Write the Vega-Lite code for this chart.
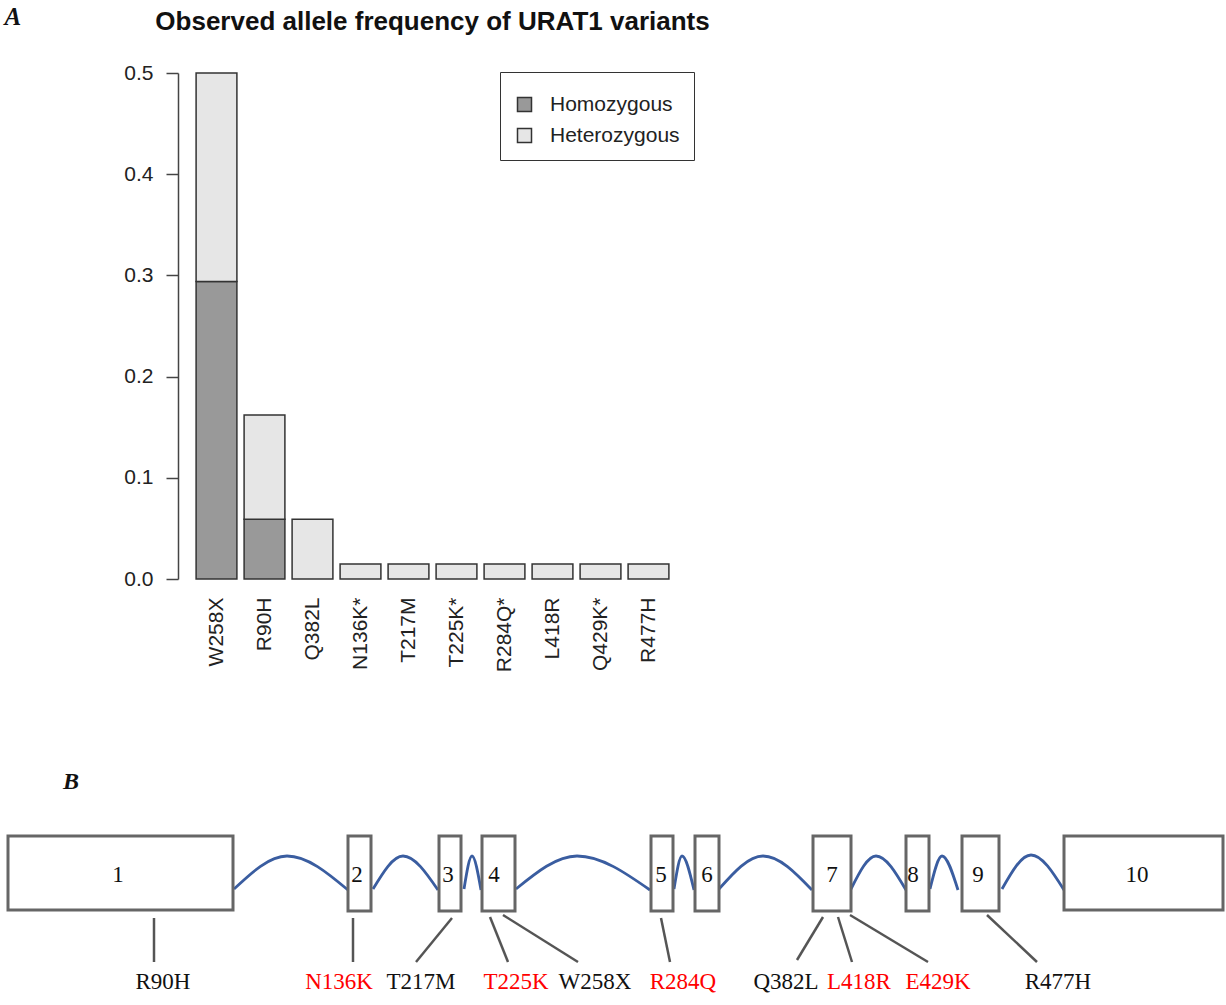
{
  "$schema": "https://vega.github.io/schema/vega-lite/v6.json",
  "width": 1226,
  "height": 1005,
  "padding": 0,
  "autosize": {"type": "none"},
  "background": "white",
  "config": {"view": {"stroke": null}, "axis": {"grid": false}},
  "datasets": {
    "freq": [
      {"variant": "W258X", "zygosity": "Homozygous", "freq": 0.294},
      {"variant": "W258X", "zygosity": "Heterozygous", "freq": 0.206},
      {"variant": "R90H", "zygosity": "Homozygous", "freq": 0.059},
      {"variant": "R90H", "zygosity": "Heterozygous", "freq": 0.103},
      {"variant": "Q382L", "zygosity": "Heterozygous", "freq": 0.059},
      {"variant": "N136K*", "zygosity": "Heterozygous", "freq": 0.0147},
      {"variant": "T217M", "zygosity": "Heterozygous", "freq": 0.0147},
      {"variant": "T225K*", "zygosity": "Heterozygous", "freq": 0.0147},
      {"variant": "R284Q*", "zygosity": "Heterozygous", "freq": 0.0147},
      {"variant": "L418R", "zygosity": "Heterozygous", "freq": 0.0147},
      {"variant": "Q429K*", "zygosity": "Heterozygous", "freq": 0.0147},
      {"variant": "R477H", "zygosity": "Heterozygous", "freq": 0.0147}
    ],
    "panel": [
      {"label": "B", "x": 63, "y": 789}
    ],
    "exons": [
      {"exon": "1", "x1": 8, "x2": 233, "y1": 836, "y2": 910, "xc": 118, "yc": 882},
      {"exon": "2", "x1": 348, "x2": 371, "y1": 836, "y2": 911, "xc": 357, "yc": 882},
      {"exon": "3", "x1": 439, "x2": 461, "y1": 836, "y2": 911, "xc": 448, "yc": 882},
      {"exon": "4", "x1": 482, "x2": 515, "y1": 836, "y2": 911, "xc": 494, "yc": 882},
      {"exon": "5", "x1": 651, "x2": 673, "y1": 836, "y2": 911, "xc": 661, "yc": 882},
      {"exon": "6", "x1": 695, "x2": 719, "y1": 836, "y2": 911, "xc": 707, "yc": 882},
      {"exon": "7", "x1": 813, "x2": 851, "y1": 836, "y2": 911, "xc": 832, "yc": 882},
      {"exon": "8", "x1": 906, "x2": 929, "y1": 836, "y2": 911, "xc": 913, "yc": 882},
      {"exon": "9", "x1": 962, "x2": 999, "y1": 836, "y2": 911, "xc": 978, "yc": 882},
      {"exon": "10", "x1": 1064, "x2": 1223, "y1": 836, "y2": 910, "xc": 1137, "yc": 882}
    ],
    "introns": [
      {"intron": 1, "x": 234, "y": 889}, {"intron": 1, "x": 287, "y": 856}, {"intron": 1, "x": 348, "y": 890},
      {"intron": 2, "x": 373, "y": 889}, {"intron": 2, "x": 403, "y": 856}, {"intron": 2, "x": 438, "y": 890},
      {"intron": 3, "x": 464, "y": 889}, {"intron": 3, "x": 472, "y": 856}, {"intron": 3, "x": 481, "y": 890},
      {"intron": 4, "x": 516, "y": 889}, {"intron": 4, "x": 577, "y": 856}, {"intron": 4, "x": 650, "y": 890},
      {"intron": 5, "x": 674, "y": 889}, {"intron": 5, "x": 682, "y": 856}, {"intron": 5, "x": 694, "y": 890},
      {"intron": 6, "x": 719, "y": 889}, {"intron": 6, "x": 763, "y": 856}, {"intron": 6, "x": 812, "y": 890},
      {"intron": 7, "x": 851, "y": 889}, {"intron": 7, "x": 876, "y": 856}, {"intron": 7, "x": 906, "y": 890},
      {"intron": 8, "x": 930, "y": 889}, {"intron": 8, "x": 942, "y": 856}, {"intron": 8, "x": 958, "y": 890},
      {"intron": 9, "x": 1002, "y": 889}, {"intron": 9, "x": 1031, "y": 855}, {"intron": 9, "x": 1064, "y": 890}
    ],
    "mutations": [
      {"name": "R90H", "type": "reported", "ax": 154, "ay": 918, "bx": 154, "by": 962, "lx": 163, "ly": 989},
      {"name": "N136K", "type": "novel", "ax": 353, "ay": 918, "bx": 353, "by": 962, "lx": 339, "ly": 989},
      {"name": "T217M", "type": "reported", "ax": 452, "ay": 918, "bx": 416, "by": 962, "lx": 421, "ly": 989},
      {"name": "T225K", "type": "novel", "ax": 490, "ay": 917, "bx": 508, "by": 962, "lx": 516, "ly": 989},
      {"name": "W258X", "type": "reported", "ax": 503, "ay": 915, "bx": 578, "by": 962, "lx": 595, "ly": 989},
      {"name": "R284Q", "type": "novel", "ax": 661, "ay": 918, "bx": 670, "by": 962, "lx": 683, "ly": 989},
      {"name": "Q382L", "type": "reported", "ax": 823, "ay": 917, "bx": 797, "by": 960, "lx": 786, "ly": 989},
      {"name": "L418R", "type": "novel", "ax": 838, "ay": 917, "bx": 852, "by": 962, "lx": 859, "ly": 989},
      {"name": "E429K", "type": "novel", "ax": 850, "ay": 915, "bx": 928, "by": 962, "lx": 938, "ly": 989},
      {"name": "R477H", "type": "reported", "ax": 987, "ay": 915, "bx": 1037, "by": 962, "lx": 1058, "ly": 989}
    ]
  },
  "layer": [
    {
      "data": {"name": "freq"},
      "mark": {"type": "bar", "stroke": "#333333", "strokeWidth": 1.5},
      "encoding": {
        "x": {
          "field": "variant", "type": "nominal", "sort": null,
          "scale": {"range": [192.5, 672.5], "paddingInner": 0.15, "paddingOuter": 0.075},
          "axis": {
            "orient": "bottom", "offset": -426, "domain": false, "ticks": false,
            "labelAngle": 270, "labelPadding": 18, "labelFontSize": 21, "labelFont": "Liberation Sans",
            "labelColor": "#222222", "labelOverlap": false,
            "title": "Observed allele frequency of URAT1 variants",
            "titleX": 432, "titleY": -550, "titleAlign": "center", "titleBaseline": "alphabetic",
            "titleFont": "Liberation Sans", "titleFontSize": 26, "titleFontWeight": "bold", "titleColor": "#111111"
          }
        },
        "y": {
          "field": "freq", "type": "quantitative", "stack": "zero",
          "scale": {"domain": [0, 0.5], "range": [579, 73], "nice": false},
          "axis": {
            "orient": "left", "offset": -178, "values": [0, 0.1, 0.2, 0.3, 0.4, 0.5], "format": ".1f",
            "tickSize": 12, "tickWidth": 1.5, "tickColor": "#444444", "domainColor": "#444444", "domainWidth": 1.5,
            "labelPadding": 13, "labelFontSize": 21, "labelFont": "Liberation Sans", "labelColor": "#222222",
            "title": "A", "titleX": -174, "titleY": 24, "titleAngle": 0, "titleAlign": "left", "titleBaseline": "alphabetic",
            "titleFont": "Liberation Serif", "titleFontSize": 25, "titleFontStyle": "italic", "titleFontWeight": "bold", "titleColor": "#111111"
          }
        },
        "color": {
          "field": "zygosity", "type": "nominal",
          "scale": {"domain": ["Homozygous", "Heterozygous"], "range": ["#999999", "#e6e6e6"]},
          "legend": {
            "orient": "none", "legendX": 500, "legendY": 72, "title": " ", "titleFontSize": 8, "titlePadding": 0,
            "strokeColor": "#333333",
            "padding": 14, "symbolType": "square", "symbolSize": 196, "symbolStrokeColor": "#333333",
            "symbolStrokeWidth": 1.5, "labelFontSize": 21, "labelFont": "Liberation Sans", "labelColor": "#222222",
            "labelOffset": 15, "rowPadding": 9
          }
        },
        "order": {"field": "zygosity", "sort": "descending"}
      }
    },
    {
      "layer": [
        {
          "data": {"name": "introns"},
          "mark": {"type": "line", "interpolate": "monotone", "stroke": "#3a5da0", "strokeWidth": 2.8},
          "encoding": {
            "x": {"field": "x", "type": "quantitative", "scale": {"domain": [0, 1226], "range": [0, 1226], "nice": false, "zero": false}, "axis": null},
            "y": {"field": "y", "type": "quantitative", "scale": {"domain": [0, 1005], "range": [0, 1005], "nice": false, "zero": false}, "axis": null},
            "detail": {"field": "intron", "type": "nominal"}
          }
        },
        {
          "data": {"name": "exons"},
          "mark": {"type": "rect", "fill": "white", "stroke": "#666666", "strokeWidth": 3},
          "encoding": {
            "x": {"field": "x1", "type": "quantitative", "scale": {"domain": [0, 1226], "range": [0, 1226], "nice": false, "zero": false}, "axis": null},
            "x2": {"field": "x2"},
            "y": {"field": "y1", "type": "quantitative", "scale": {"domain": [0, 1005], "range": [0, 1005], "nice": false, "zero": false}, "axis": null},
            "y2": {"field": "y2"}
          }
        },
        {
          "data": {"name": "exons"},
          "mark": {"type": "text", "font": "Liberation Serif", "fontSize": 23, "color": "#111111", "align": "center", "baseline": "alphabetic"},
          "encoding": {
            "x": {"field": "xc", "type": "quantitative", "scale": {"domain": [0, 1226], "range": [0, 1226], "nice": false, "zero": false}, "axis": null},
            "y": {"field": "yc", "type": "quantitative", "scale": {"domain": [0, 1005], "range": [0, 1005], "nice": false, "zero": false}, "axis": null},
            "text": {"field": "exon"}
          }
        },
        {
          "data": {"name": "mutations"},
          "mark": {"type": "rule", "stroke": "#555555", "strokeWidth": 2.5},
          "encoding": {
            "x": {"field": "ax", "type": "quantitative", "scale": {"domain": [0, 1226], "range": [0, 1226], "nice": false, "zero": false}, "axis": null},
            "x2": {"field": "bx"},
            "y": {"field": "ay", "type": "quantitative", "scale": {"domain": [0, 1005], "range": [0, 1005], "nice": false, "zero": false}, "axis": null},
            "y2": {"field": "by"}
          }
        },
        {
          "data": {"name": "mutations"},
          "mark": {"type": "text", "font": "Liberation Serif", "fontSize": 23, "align": "center", "baseline": "alphabetic"},
          "encoding": {
            "x": {"field": "lx", "type": "quantitative", "scale": {"domain": [0, 1226], "range": [0, 1226], "nice": false, "zero": false}, "axis": null},
            "y": {"field": "ly", "type": "quantitative", "scale": {"domain": [0, 1005], "range": [0, 1005], "nice": false, "zero": false}, "axis": null},
            "text": {"field": "name"},
            "color": {"field": "type", "type": "nominal", "scale": {"domain": ["novel", "reported"], "range": ["#ff0000", "#111111"]}, "legend": null}
          }
        },
        {
          "data": {"name": "panel"},
          "mark": {"type": "text", "font": "Liberation Serif", "fontSize": 24, "fontStyle": "italic", "fontWeight": "bold", "color": "#111111", "align": "left", "baseline": "alphabetic"},
          "encoding": {
            "x": {"field": "x", "type": "quantitative", "scale": {"domain": [0, 1226], "range": [0, 1226], "nice": false, "zero": false}, "axis": null},
            "y": {"field": "y", "type": "quantitative", "scale": {"domain": [0, 1005], "range": [0, 1005], "nice": false, "zero": false}, "axis": null},
            "text": {"field": "label"}
          }
        }
      ]
    }
  ],
  "resolve": {
    "scale": {"x": "independent", "y": "independent", "color": "independent"},
    "axis": {"x": "independent", "y": "independent"},
    "legend": {"color": "independent"}
  }
}
